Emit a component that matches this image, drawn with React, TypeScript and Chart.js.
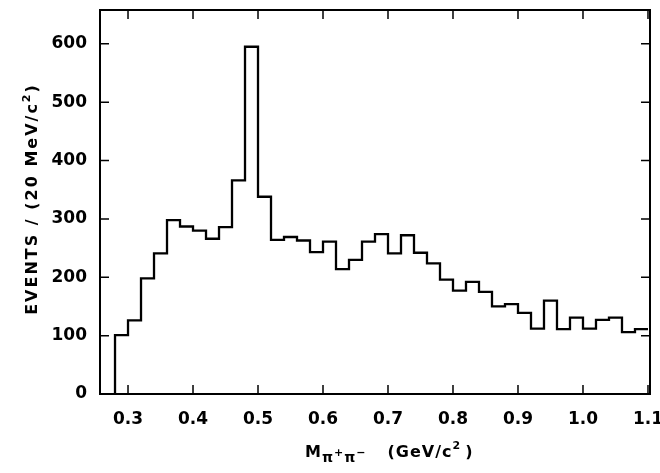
import React, { useEffect, useRef } from "react";
import { Chart, registerables } from "chart.js";

Chart.register(...registerables);

// Histogram: events per 20 MeV/c^2 bin of M(pi+ pi-)
const binStart = 0.28; // GeV/c^2, lower edge of first bin
const binWidth = 0.02; // GeV/c^2
const counts = [
  101, 126, 198, 241, 298, 287, 280, 266, 286, 366,
  595, 338, 264, 269, 263, 243, 261, 214, 230, 261,
  274, 241, 272, 242, 224, 196, 177, 192, 175, 150,
  154, 139, 112, 160, 111, 131, 112, 127, 131, 106,
  111,
];
const xTickValues = [0.3, 0.4, 0.5, 0.6, 0.7, 0.8, 0.9, 1.0, 1.1];
const yTickValues = [0, 100, 200, 300, 400, 500, 600];
const xRange = [0.2569, 1.1031];
const yRange = [0, 658];

const FONT = '"DejaVu Sans", "Liberation Sans", sans-serif';

function histogramPoints() {
  const pts: { x: number; y: number }[] = [{ x: binStart, y: 0 }];
  counts.forEach((c, i) => {
    const lo = +(binStart + i * binWidth).toFixed(4);
    const hi = +(binStart + (i + 1) * binWidth).toFixed(4);
    pts.push({ x: lo, y: c });
    pts.push({ x: hi, y: c });
  });
  return pts;
}

const framePlugin = {
  id: "framePlugin",
  beforeDraw(chart: any) {
    const ctx = chart.ctx;
    ctx.save();
    ctx.fillStyle = "#ffffff";
    ctx.fillRect(0, 0, chart.width, chart.height);
    ctx.restore();
  },
  afterDraw(chart: any) {
    const ctx = chart.ctx;
    const { left, right, top, bottom } = chart.chartArea;
    const xs = chart.scales.x;
    const ys = chart.scales.y;
    ctx.save();
    ctx.strokeStyle = "#000";
    ctx.lineWidth = 2;
    ctx.strokeRect(left, top, right - left, bottom - top);
    ctx.lineWidth = 1.5;
    const tl = 9;
    ctx.beginPath();
    xTickValues.forEach((v) => {
      const px = xs.getPixelForValue(v);
      ctx.moveTo(px, bottom);
      ctx.lineTo(px, bottom - tl);
      ctx.moveTo(px, top);
      ctx.lineTo(px, top + tl);
    });
    yTickValues.forEach((v) => {
      const py = ys.getPixelForValue(v);
      ctx.moveTo(left, py);
      ctx.lineTo(left + tl, py);
      ctx.moveTo(right, py);
      ctx.lineTo(right - tl, py);
    });
    ctx.stroke();

    ctx.fillStyle = "#000";
    // Y axis title (rotated) with superscript
    ctx.save();
    ctx.translate(37, 199);
    ctx.rotate(-Math.PI / 2);
    ctx.textBaseline = "alphabetic";
    ctx.textAlign = "left";
    (ctx as any).letterSpacing = "2px";
    const yParts = [
      { t: "EVENTS / (20 MeV/c", s: 16, dy: 0 },
      { t: "2", s: 11, dy: -7 },
      { t: ")", s: 16, dy: 0 },
    ];
    let total = 0;
    yParts.forEach((p) => {
      ctx.font = `bold ${p.s}px ${FONT}`;
      total += ctx.measureText(p.t).width;
    });
    let cx = -total / 2;
    yParts.forEach((p) => {
      ctx.font = `bold ${p.s}px ${FONT}`;
      ctx.fillText(p.t, cx, p.dy);
      cx += ctx.measureText(p.t).width;
    });
    ctx.restore();

    // X axis title: M_{pi+pi-} (GeV/c^2)
    ctx.save();
    ctx.textBaseline = "alphabetic";
    ctx.textAlign = "left";
    (ctx as any).letterSpacing = "1px";
    const xParts = [
      { t: "M", s: 16, dy: 0, gap: 0 },
      { t: "π", s: 14, dy: 5, gap: 0 },
      { t: "+", s: 11, dy: -1, gap: 0 },
      { t: "π", s: 14, dy: 5, gap: 0 },
      { t: "−", s: 11, dy: -1, gap: 0 },
      { t: "(GeV/c", s: 16, dy: 0, gap: 21 },
      { t: "2", s: 11, dy: -8, gap: 0 },
      { t: ")", s: 16, dy: 0, gap: 4 },
    ];
    let x = 305;
    const base = 457;
    xParts.forEach((p) => {
      ctx.font = `bold ${p.s}px ${FONT}`;
      x += p.gap;
      ctx.fillText(p.t, x, base + p.dy);
      x += ctx.measureText(p.t).width;
    });
    ctx.restore();
    ctx.restore();
  },
};

export default function App() {
  const ref = useRef<HTMLCanvasElement | null>(null);
  useEffect(() => {
    document.body.style.margin = "0";
    const canvas = ref.current;
    if (!canvas) return;
    const chart = new Chart(canvas, {
      type: "line",
      data: {
        datasets: [
          {
            data: histogramPoints(),
            borderColor: "#000",
            borderWidth: 2.3,
            pointRadius: 0,
            tension: 0,
            fill: false,
          },
        ],
      },
      options: {
        animation: false,
        responsive: false,
        devicePixelRatio: 1,
        layout: { padding: { top: 10, right: 10, left: 0, bottom: 0 }, autoPadding: false },
        plugins: { legend: { display: false }, tooltip: { enabled: false }, title: { display: false } },
        scales: {
          x: {
            type: "linear",
            min: xRange[0],
            max: xRange[1],
            grid: { display: false, drawTicks: false },
            border: { display: false },
            afterBuildTicks: (s: any) => {
              s.ticks = xTickValues.map((v) => ({ value: v }));
            },
            afterFit: (s: any) => {
              s.height = 79;
              s.paddingLeft = 0;
              s.paddingRight = 0;
              s.paddingTop = 0;
              s.paddingBottom = 0;
            },
            ticks: {
              color: "#000",
              padding: 15,
              maxRotation: 0,
              autoSkip: false,
              font: { family: FONT, size: 17, weight: "bold" },
              callback: (v: any) => Number(v).toFixed(1),
            },
          },
          y: {
            type: "linear",
            min: yRange[0],
            max: yRange[1],
            grid: { display: false, drawTicks: false },
            border: { display: false },
            afterBuildTicks: (s: any) => {
              s.ticks = yTickValues.map((v) => ({ value: v }));
            },
            afterFit: (s: any) => {
              s.width = 100;
              s.paddingLeft = 0;
              s.paddingRight = 0;
              s.paddingTop = 0;
              s.paddingBottom = 0;
            },
            ticks: {
              color: "#000",
              padding: 13,
              autoSkip: false,
              font: { family: FONT, size: 17, weight: "bold" },
              callback: (v: any) => String(v),
            },
          },
        },
      },
      plugins: [framePlugin],
    } as any);
    return () => chart.destroy();
  }, []);
  return (
    <div style={{ width: 660, height: 473 }}>
      <canvas ref={ref} width={660} height={473} style={{ display: "block" }} />
    </div>
  );
}
